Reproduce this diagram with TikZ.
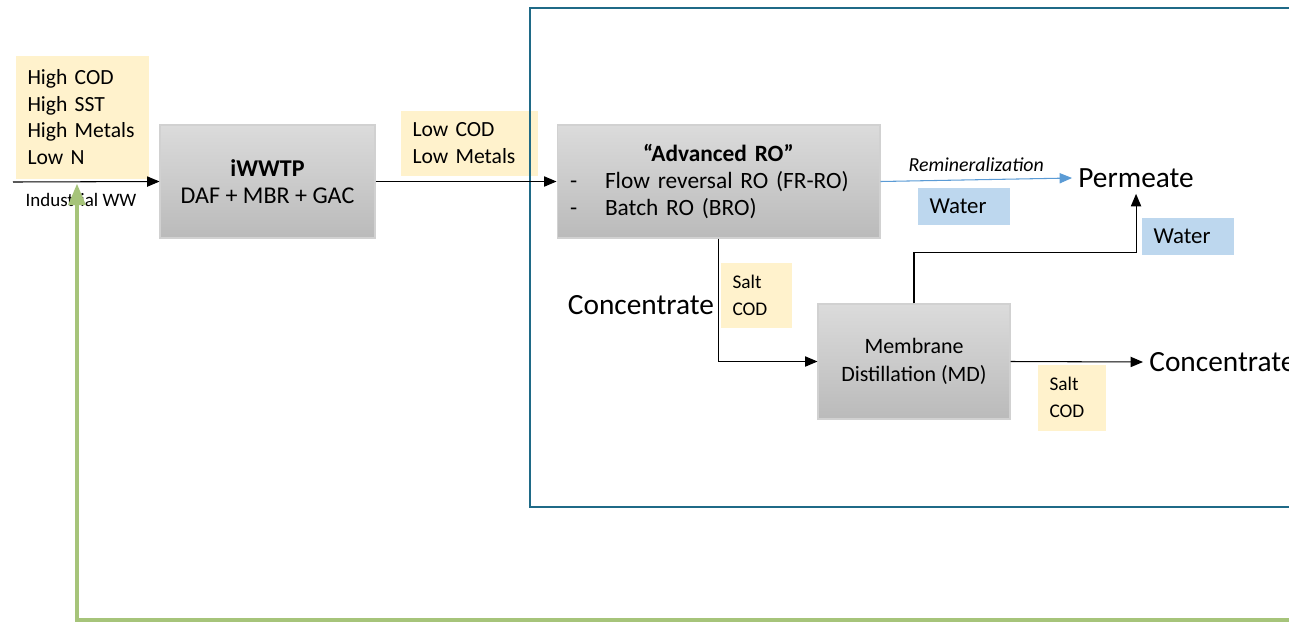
\documentclass[tikz,border=0pt]{standalone}
\usepackage{fontspec}
\setmainfont{Carlito}
\usetikzlibrary{arrows,positioning}
\definecolor{notefill}{HTML}{FFF2CC}
\definecolor{waterfill}{HTML}{BDD7EE}
\definecolor{framecol}{HTML}{1F6A87}
\definecolor{recyclecol}{HTML}{A6C47A}
\definecolor{remincol}{HTML}{5B9BD5}

\begin{document}
\begin{tikzpicture}[x=0.02cm, y=-0.02cm, >=triangle 45, line width=0.6pt,
  unit/.style={draw=black!18, top color=black!14, bottom color=black!27, inner sep=0pt,
    align=center, font=\fontsize{13.3}{15.5}\selectfont},
  note/.style={fill=notefill, anchor=north west, inner xsep=0.24cm, inner ysep=0pt,
    align=left, font=\fontsize{12.3}{15.3}\selectfont},
  water/.style={fill=waterfill, anchor=north west, inner xsep=0.24cm, inner ysep=0pt,
    align=left, minimum width=1.84cm, minimum height=0.74cm, text width=1.36cm,
    font=\fontsize{13}{15}\selectfont},
  stream/.style={font=\fontsize{16.7}{19}\selectfont}]
\useasboundingbox (0,0) rectangle (1289,623);
\clip (0,0) rectangle (1289,623);

% treatment units
\node [unit, minimum width=4.3cm, minimum height=2.26cm, font=\fontsize{13.7}{15.5}\selectfont] (iwwtp) at (267.5,181.5)
  {\textbf{iWWTP}\\DAF + MBR + GAC};
\node [unit, minimum width=6.46cm, minimum height=2.26cm, text width=5.94cm, align=left] (aro) at (718.5,181.5)
  {\centerline{\textbf{“Advanced RO”}}\\
   \makebox[0.7cm][l]{-}Flow reversal RO (FR-RO)\\
   \makebox[0.7cm][l]{-}Batch RO (BRO)};
\node [unit, minimum width=3.84cm, minimum height=2.3cm, font=\fontsize{12.5}{16}\selectfont] (md) at (914,361.5)
  {Membrane\\Distillation (MD)};

% stream characteristics
\node [note, minimum width=2.66cm, minimum height=2.46cm, text width=2.18cm] (feedq) at (15,55)
  {High COD\\High SST\\High Metals\\Low N};
\node [note, minimum width=2.74cm, minimum height=1.3cm, text width=2.26cm] (lowq) at (400,110)
  {Low COD\\Low Metals};
\node [note, minimum width=1.42cm, minimum height=1.3cm, text width=0.94cm, font=\fontsize{11}{15.3}\selectfont] (saltro) at (720,262)
  {Salt\\COD};
\node [note, minimum width=1.36cm, minimum height=1.32cm, text width=0.88cm, font=\fontsize{11}{15.3}\selectfont] (saltmd) at (1037,364)
  {Salt\\COD};
\node [water] (waterro) at (917,187) {Water};
\node [water] (watermd) at (1141,217) {Water};

% outlets
\node [stream, anchor=west] (permeate) at (1072,178) {Permeate};
\node [stream, anchor=east, inner sep=2pt] (concro) at (718,305) {Concentrate};
\node [stream, anchor=west] (concmd) at (1143,362) {Concentrate};

\draw [framecol, line width=1.4pt] (530,8) rectangle (1300,507);

\coordinate (wwin) at (13,182);
\draw [->] (wwin) -- node [below=3pt, xshift=-3pt, font=\fontsize{10.8}{12}\selectfont] {Industrial WW} (iwwtp.west);
\draw [->] (iwwtp.east) -- (aro.west);
\draw [->, remincol] (aro.east) -- node [above=1pt, text=black, font=\itshape\fontsize{11.3}{13}\selectfont] {Remineralization} (permeate.west);
\draw [->] (aro.south) |- (md.west);
\draw [->] (md.north) -- ++(0,-51) -| (permeate.south);
\draw [->] (md.east) -- (concmd.west);

% recycle loop
\coordinate (recycle) at (1300,620);
\coordinate (recyclein) at (77,184);
\draw [->, recyclecol, line width=1.8pt] (recycle) -| (recyclein);
\end{tikzpicture}
\end{document}
